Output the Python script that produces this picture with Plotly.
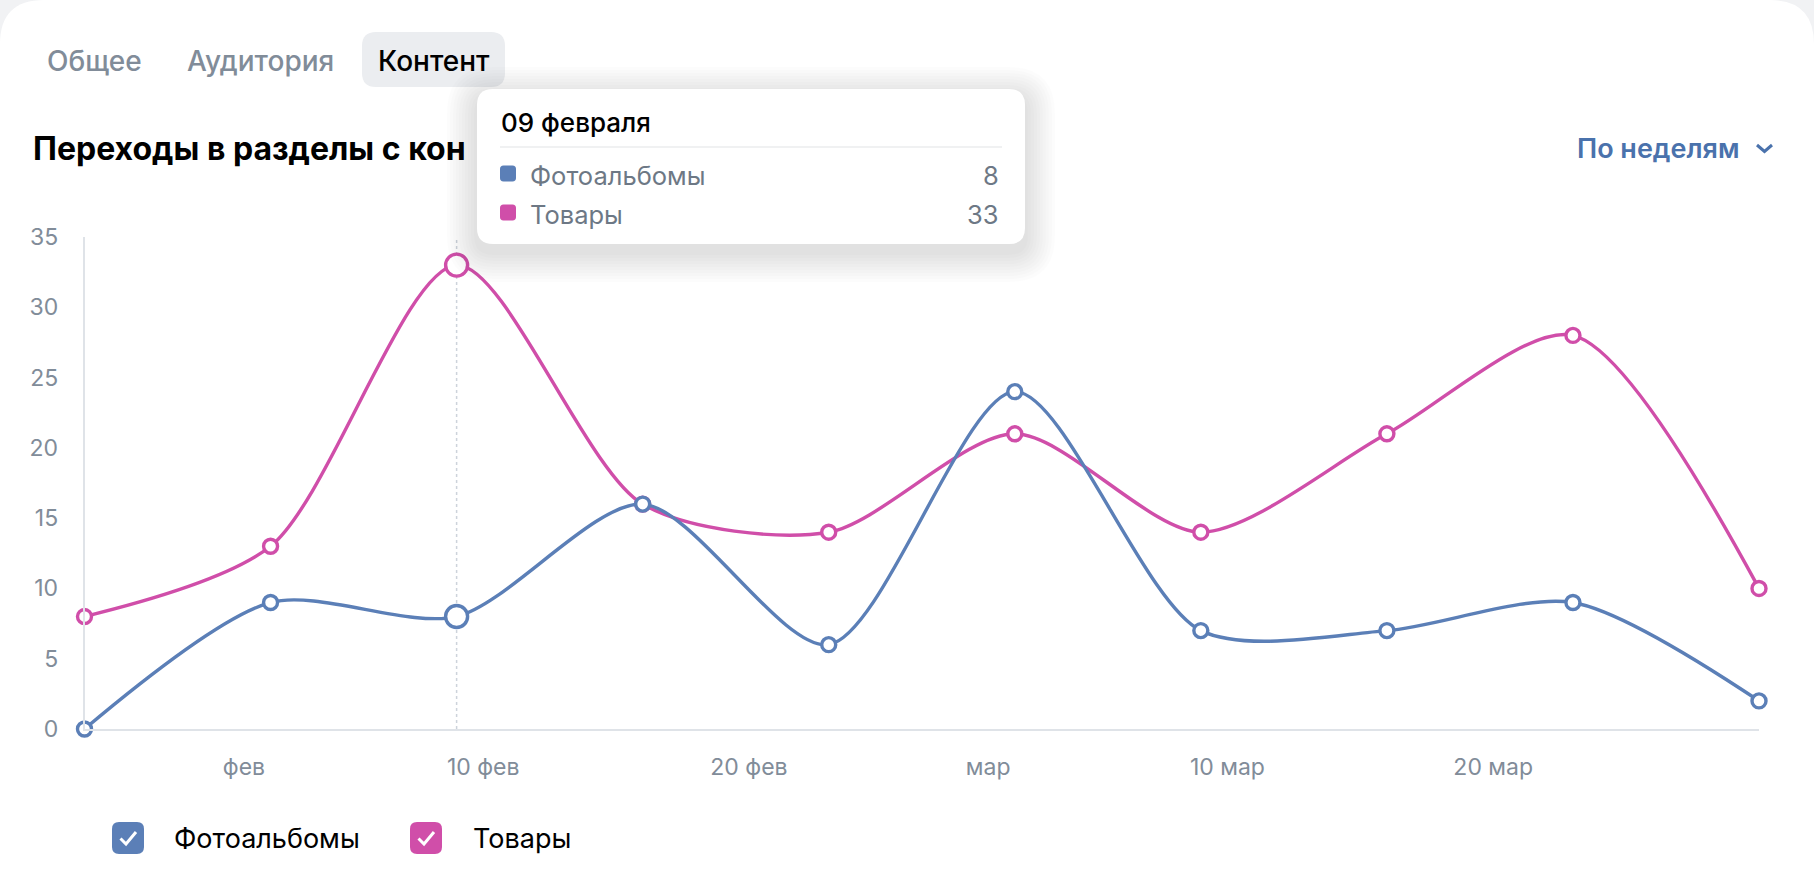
import plotly.graph_objects as go

W, H = 1814, 892

# ---------------- data ----------------
weeks = ["2025-01-26", "2025-02-02", "2025-02-09", "2025-02-16", "2025-02-23",
         "2025-03-02", "2025-03-09", "2025-03-16", "2025-03-23", "2025-03-30"]
photo_albums = [0, 9, 8, 16, 6, 24, 7, 7, 9, 2]
goods = [8, 13, 33, 16, 14, 21, 14, 21, 28, 10]
series_names = ["Фотоальбомы", "Товары"]
tick_vals = ["2025-02-01", "2025-02-10", "2025-02-20", "2025-03-01", "2025-03-10", "2025-03-20"]
tick_text = ["фев", "10 фев", "20 фев", "мар", "10 мар", "20 мар"]
y_ticks = [0, 5, 10, 15, 20, 25, 30, 35]
hover_week = "2025-02-09"
hover_label = "09 февраля"
tabs = ["Общее", "Аудитория", "Контент"]
title_text = "Переходы в разделы с кон"
period_text = "По неделям"

BLUE = "#5b7fb7"
PINK = "#d04ea9"
GREY_TXT = "#818c99"
AXIS = "#dfe3e8"
FONT = "Inter, Roboto, sans-serif"


def px(x):
    return x / W


def py(y):
    return 1 - y / H


def rrect(x0, y0, x1, y1, r):
    pts = [
        ("M", [(x0 + r, y0)]), ("L", [(x1 - r, y0)]), ("Q", [(x1, y0), (x1, y0 + r)]),
        ("L", [(x1, y1 - r)]), ("Q", [(x1, y1), (x1 - r, y1)]),
        ("L", [(x0 + r, y1)]), ("Q", [(x0, y1), (x0, y1 - r)]),
        ("L", [(x0, y0 + r)]), ("Q", [(x0, y0), (x0 + r, y0)]),
    ]
    s = ""
    for cmd, ps in pts:
        s += cmd + " " + " ".join(f"{px(a):.6f},{py(b):.6f}" for a, b in ps) + " "
    return s + "Z"


def polyline(points):
    return "M " + " L ".join(f"{px(a):.6f},{py(b):.6f}" for a, b in points)


fig = go.Figure()

for name, vals, col in [(series_names[1], goods, PINK), (series_names[0], photo_albums, BLUE)]:
    sizes = [22 if w == hover_week else 14 for w in weeks]
    fig.add_trace(go.Scatter(
        x=weeks, y=vals, name=name, mode="lines+markers",
        line=dict(color=col, width=3.4, shape="spline", smoothing=0.8),
        marker=dict(size=sizes, color="white", opacity=1, line=dict(color=col, width=3.4)),
        cliponaxis=False, showlegend=False, hoverinfo="skip",
    ))

shapes = []
# card
shapes.append(dict(type="path", xref="paper", yref="paper", path=rrect(0, 0, W, H + 60, 44),
                   fillcolor="white", line=dict(width=0), layer="below"))
# active tab background
shapes.append(dict(type="path", xref="paper", yref="paper", path=rrect(362, 32, 505, 87, 14),
                   fillcolor="#ebedf0", line=dict(width=0), layer="below"))
# hover dotted line
shapes.append(dict(type="line", xref="x", yref="y", x0=hover_week, x1=hover_week, y0=0, y1=y_ticks[-1],
                   line=dict(color="#cdd3db", width=1.5, dash="dot"), layer="below"))
# tooltip shadow + box
tx0, ty0, tx1, ty1 = 477, 89, 1025, 244
for i in range(10, 0, -1):
    e = i * 3
    shapes.append(dict(type="path", xref="paper", yref="paper",
                       path=rrect(tx0 - e, ty0 - e + 8, tx1 + e, ty1 + e + 8, 16 + e),
                       fillcolor="rgba(0,0,0,0.011)", line=dict(width=0), layer="above"))
shapes.append(dict(type="path", xref="paper", yref="paper", path=rrect(tx0, ty0, tx1, ty1, 16),
                   fillcolor="white", line=dict(width=0), layer="above"))
shapes.append(dict(type="line", xref="paper", yref="paper", x0=px(500), x1=px(1002), y0=py(147), y1=py(147),
                   line=dict(color="#e1e3e6", width=1.2), layer="above"))
# tooltip color squares
for yc, col in [(173.5, BLUE), (212.5, PINK)]:
    shapes.append(dict(type="path", xref="paper", yref="paper", path=rrect(500, yc - 8, 516, yc + 8, 3.5),
                       fillcolor=col, line=dict(width=0), layer="above"))
# chevron
shapes.append(dict(type="path", xref="paper", yref="paper",
                   path=polyline([(1757, 145), (1764.5, 151.5), (1772, 145)]),
                   line=dict(color="#4a72ac", width=3), layer="above"))
# legend checkboxes
for x0, col in [(112, BLUE), (410, PINK)]:
    shapes.append(dict(type="path", xref="paper", yref="paper", path=rrect(x0, 822, x0 + 32, 854, 7),
                       fillcolor=col, line=dict(width=0), layer="above"))
    shapes.append(dict(type="path", xref="paper", yref="paper",
                       path=polyline([(x0 + 8.5, 838.5), (x0 + 14, 844), (x0 + 24, 832)]),
                       line=dict(color="white", width=3), layer="above"))

ann = []


def text(x, y, s, size, color, anchor="left", weight=None, family=FONT):
    f = dict(size=size, color=color, family=family)
    if weight:
        f["weight"] = weight
    ann.append(dict(x=px(x), y=py(y), xref="paper", yref="paper", text=s, showarrow=False,
                    xanchor=anchor, yanchor="middle", font=f))


# tabs
text(45, 61, tabs[0], 28, GREY_TXT, weight=500)
text(185, 61, tabs[1], 28, GREY_TXT, weight=500)
text(376, 61, tabs[2], 28, "#000000", weight=500)
# title
text(31, 149, title_text, 32, "#000000", weight=700)
# period selector
text(1575, 149, period_text, 27, "#4a72ac", weight=600)
# tooltip
text(499, 122, hover_label, 26, "#000000", weight=500)
i_h = weeks.index(hover_week)
text(528, 175, series_names[0], 25.5, "#6d7885")
text(1001, 175, str(photo_albums[i_h]), 25.5, "#6d7885", anchor="right")
text(528, 214, series_names[1], 25.5, "#6d7885")
text(1001, 214, str(goods[i_h]), 25.5, "#6d7885", anchor="right")
# legend
text(172, 838, series_names[0], 27, "#000000")
text(471, 838, series_names[1], 27, "#000000")

fig.update_layout(
    width=W, height=H, margin=dict(l=0, r=0, t=0, b=0, pad=0, autoexpand=False),
    paper_bgcolor="#f1f2f4", plot_bgcolor="rgba(0,0,0,0)",
    shapes=shapes, annotations=ann, hovermode=False, showlegend=False,
    font=dict(family=FONT),
    xaxis=dict(domain=[px(84.5), px(1759)], type="date", range=[weeks[0], weeks[-1]],
               tickvals=tick_vals, ticktext=tick_text, showgrid=False, zeroline=False,
               showline=True, linecolor=AXIS, linewidth=2, automargin=False,
               ticks="outside", ticklen=16, tickcolor="rgba(0,0,0,0)",
               tickfont=dict(size=23, color=GREY_TXT)),
    yaxis=dict(domain=[py(729), py(237)], range=[0, y_ticks[-1]], tickvals=y_ticks,
               showgrid=False, zeroline=False, showline=True, linecolor=AXIS, linewidth=1.5,
               automargin=False,
               ticks="outside", ticklen=20, tickcolor="rgba(0,0,0,0)",
               tickfont=dict(size=23, color=GREY_TXT)),
)

fig.write_html("out.html", config={"displayModeBar": False},
               post_script="document.body.style.margin='0';document.body.style.overflow='hidden';")
